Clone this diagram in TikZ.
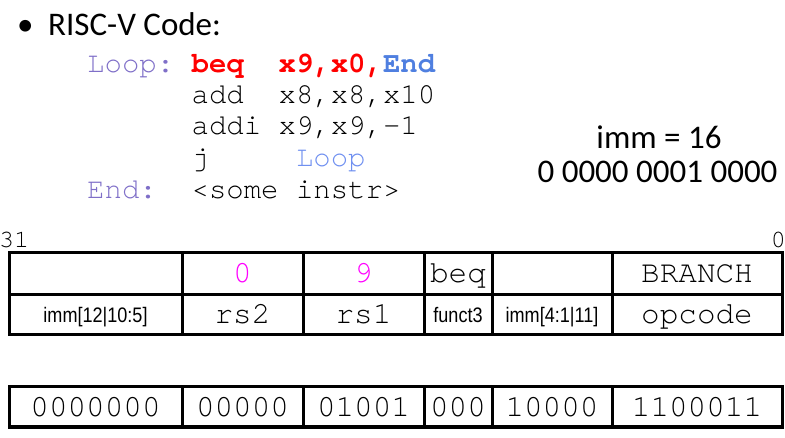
\documentclass[tikz,border=0pt]{standalone}
\usepackage{fontspec}
\setmainfont{Carlito}
\newfontfamily\codefont{TeX Gyre Cursor}
\newfontfamily\narrowfont[FakeStretch=0.86]{Liberation Sans}
\definecolor{lblpurple}{HTML}{7F6FC8}
\definecolor{endblue}{HTML}{4F7FE0}
\definecolor{loopblue}{HTML}{7090F0}
\definecolor{regpink}{RGB}{255,0,255}
\tikzset{
  code/.style={anchor=base west, inner sep=0pt, font=\codefont\fontsize{29}{29}\selectfont},
  field/.style={anchor=base, inner sep=0pt, font=\codefont\fontsize{31}{31}\selectfont},
  fieldname/.style={anchor=base, inner sep=0pt, font=\narrowfont\fontsize{21}{21}\selectfont},
  bittag/.style={inner sep=0pt, font=\codefont\fontsize{25}{25}\selectfont},
  bigtext/.style={inner sep=0pt, font=\fontsize{33}{33}\selectfont},
  grid/.style={line width=3pt}
}

\begin{document}
\begin{tikzpicture}[x=1pt,y=-1pt]
\useasboundingbox (0,0) rectangle (785,438);
\node[bigtext, anchor=base west] (bul) at (17,36) {•};
\node[bigtext, anchor=base west] (title) at (48,36) {RISC-V Code:};
%
%
\node[code, text=lblpurple] (lloop) at (87,73) {Loop:};
\node[code] (i1) at (191.4,73) {\textbf{\textcolor{red}{beq~~x9,x0,}\textcolor{endblue}{End}}};
\node[code] (i2) at (191.4,104) {add~~x8,x8,x10};
\node[code] (i3) at (191.4,135) {addi x9,x9,-1};
\node[code] (i4) at (191.4,167) {j~~~~~\textcolor{loopblue}{Loop}};
\node[code, text=lblpurple] (lend) at (87,199) {End:};
\node[code] (i5) at (191.4,199) {<some instr>};
%
\node[bigtext, anchor=base] (imm) at (659,149) {imm = 16};
\node[bigtext, anchor=base] (immbits) at (657.5,183) {0 0000 0001 0000};
%
%
\node[bittag, anchor=base west] (msb) at (-1,248) {31};
\node[bittag, anchor=base east] (lsb) at (786,248) {0};
\draw[grid] (9,253) rectangle (782,335);
\draw[grid] (9,295) -- (782,295);
\foreach \c in {182,303,424,492,612}
  \draw[grid] (\c,253) -- (\c,335);
\node[field, text=regpink] (rstwo) at (242.5,283) {0};
\node[field, text=regpink] (rsone) at (363.5,283) {9};
\node[field] (fthree) at (458,283) {beq};
\node[field] (op) at (697,283) {BRANCH};
\node[fieldname] (immhi) at (95.5,323) {imm[12|10:5]};
\node[field] (nrstwo) at (242.5,324) {rs2};
\node[field] (nrsone) at (363.5,324) {rs1};
\node[fieldname] (nfthree) at (458,323) {funct3};
\node[fieldname] (immlo) at (552,323) {imm[4:1|11]};
\node[field] (nop) at (697,324) {opcode};
%
%
\draw[grid] (9,387) rectangle (782,427);
\foreach \c in {182,303,424,492,612}
  \draw[grid] (\c,387) -- (\c,427);
\node[field] (bimmhi) at (95.5,417) {0000000};
\node[field] (brstwo) at (242.5,417) {00000};
\node[field] (brsone) at (363.5,417) {01001};
\node[field] (bfthree) at (458,417) {000};
\node[field] (bimmlo) at (552,417) {10000};
\node[field] (bop) at (697,417) {1100011};
\end{tikzpicture}
\end{document}
